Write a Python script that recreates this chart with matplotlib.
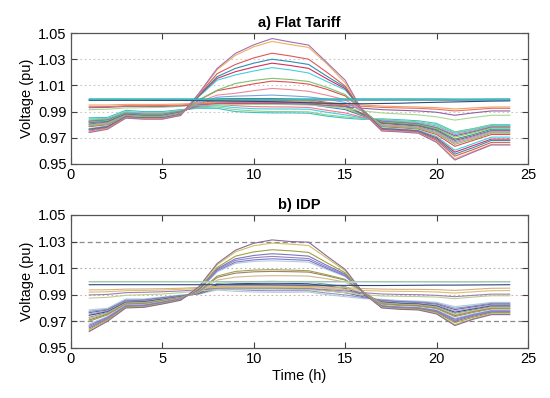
import matplotlib
matplotlib.use("Agg")
import matplotlib.pyplot as plt
import numpy as np

plt.rcParams['font.family'] = ['Liberation Sans', 'DejaVu Sans']

hours = list(range(1, 25))
x_ticks = [0, 5, 10, 15, 20, 25]
y_ticks = [0.95, 0.97, 0.99, 1.01, 1.03, 1.05]
titles = ["a) Flat Tariff", "b) IDP"]
x_label = "Time (h)"
y_label = "Voltage (pu)"

# ---------------- a) Flat tariff ----------------
flat_high_1 = [0.9997, 0.9997, 0.9997, 0.9997, 0.9997, 0.9997, 0.9997, 0.9997, 0.9997, 0.9997, 0.9997, 0.9997, 0.9997, 0.9997, 0.9997, 0.9997, 0.9997, 0.9997, 0.9997, 0.9997, 0.9996, 0.9996, 0.9997, 0.9997]
flat_high_2 = [0.9992, 0.9992, 0.9992, 0.9992, 0.9992, 0.9992, 0.9992, 0.9992, 0.9992, 0.9992, 0.9992, 0.9992, 0.9992, 0.9991, 0.9991, 0.9991, 0.9991, 0.9991, 0.9991, 0.9991, 0.9990, 0.9990, 0.9991, 0.9991]
flat_high_3 = [0.9986, 0.9986, 0.9986, 0.9986, 0.9985, 0.9985, 0.9984, 0.9982, 0.9980, 0.9978, 0.9976, 0.9972, 0.9968, 0.9964, 0.9961, 0.9960, 0.9962, 0.9964, 0.9968, 0.9971, 0.9974, 0.9977, 0.9980, 0.9982]
flat_high_4 = [0.9988, 0.9988, 0.9988, 0.9988, 0.9988, 0.9988, 0.9988, 0.9988, 0.9987, 0.9987, 0.9987, 0.9987, 0.9987, 0.9987, 0.9987, 0.9986, 0.9986, 0.9986, 0.9986, 0.9986, 0.9985, 0.9986, 0.9986, 0.9986]

flat_mid_1 = [0.9950, 0.9950, 0.9955, 0.9955, 0.9955, 0.9958, 0.9965, 0.9975, 0.9978, 0.9978, 0.9978, 0.9976, 0.9975, 0.9968, 0.9960, 0.9950, 0.9942, 0.9938, 0.9935, 0.9930, 0.9920, 0.9928, 0.9935, 0.9935]
flat_mid_2 = [0.9937, 0.9938, 0.9945, 0.9945, 0.9946, 0.9950, 0.9958, 0.9968, 0.9970, 0.9970, 0.9970, 0.9968, 0.9966, 0.9958, 0.9950, 0.9940, 0.9932, 0.9928, 0.9925, 0.9918, 0.9905, 0.9915, 0.9925, 0.9925]
flat_mid_3 = [0.9930, 0.9932, 0.9940, 0.9940, 0.9940, 0.9945, 0.9952, 0.9962, 0.9962, 0.9962, 0.9962, 0.9960, 0.9958, 0.9948, 0.9938, 0.9925, 0.9915, 0.9910, 0.9905, 0.9895, 0.9872, 0.9890, 0.9905, 0.9905]
flat_mid_4 = [0.9915, 0.9918, 0.9928, 0.9930, 0.9932, 0.9940, 0.9948, 0.9955, 0.9955, 0.9955, 0.9955, 0.9953, 0.9950, 0.9940, 0.9925, 0.9905, 0.9890, 0.9882, 0.9875, 0.9860, 0.9835, 0.9855, 0.9872, 0.9872]

flat_peak_1 = [0.9740, 0.9765, 0.9850, 0.9842, 0.9842, 0.9870, 1.0040, 1.0230, 1.0345, 1.0410, 1.0458, 1.0432, 1.0408, 1.0275, 1.0140, 0.9890, 0.9752, 0.9745, 0.9735, 0.9665, 0.9530, 0.9590, 0.9645, 0.9645]
flat_peak_2 = [0.9745, 0.9770, 0.9852, 0.9845, 0.9845, 0.9872, 1.0035, 1.0220, 1.0330, 1.0395, 1.0436, 1.0412, 1.0390, 1.0265, 1.0120, 0.9892, 0.9755, 0.9748, 0.9738, 0.9670, 0.9540, 0.9595, 0.9650, 0.9650]
flat_peak_3 = [0.9750, 0.9775, 0.9855, 0.9848, 0.9848, 0.9874, 1.0030, 1.0190, 1.0260, 1.0310, 1.0346, 1.0325, 1.0300, 1.0200, 1.0095, 0.9895, 0.9760, 0.9752, 0.9742, 0.9680, 0.9560, 0.9610, 0.9665, 0.9665]
flat_peak_4 = [0.9760, 0.9780, 0.9858, 0.9850, 0.9850, 0.9876, 1.0025, 1.0167, 1.0230, 1.0270, 1.0300, 1.0282, 1.0260, 1.0170, 1.0085, 0.9898, 0.9765, 0.9757, 0.9748, 0.9690, 0.9575, 0.9625, 0.9680, 0.9680]
flat_peak_5 = [0.9765, 0.9785, 0.9860, 0.9852, 0.9852, 0.9878, 1.0020, 1.0154, 1.0205, 1.0240, 1.0270, 1.0252, 1.0230, 1.0150, 1.0075, 0.9900, 0.9770, 0.9762, 0.9752, 0.9700, 0.9590, 0.9640, 0.9690, 0.9690]
flat_peak_6 = [0.9770, 0.9790, 0.9862, 0.9855, 0.9855, 0.9880, 1.0015, 1.0140, 1.0180, 1.0210, 1.0236, 1.0218, 1.0195, 1.0130, 1.0065, 0.9902, 0.9775, 0.9767, 0.9757, 0.9710, 0.9605, 0.9655, 0.9705, 0.9705]
flat_peak_7 = [0.9790, 0.9805, 0.9868, 0.9860, 0.9860, 0.9885, 0.9990, 1.0064, 1.0115, 1.0138, 1.0154, 1.0145, 1.0130, 1.0085, 1.0030, 0.9910, 0.9790, 0.9782, 0.9772, 0.9735, 0.9650, 0.9690, 0.9735, 0.9735]
flat_peak_8 = [0.9785, 0.9800, 0.9866, 0.9858, 0.9858, 0.9883, 0.9988, 1.0060, 1.0085, 1.0112, 1.0133, 1.0125, 1.0110, 1.0070, 1.0020, 0.9908, 0.9785, 0.9777, 0.9767, 0.9725, 0.9635, 0.9680, 0.9725, 0.9725]
flat_peak_9 = [0.9795, 0.9810, 0.9870, 0.9862, 0.9862, 0.9887, 0.9975, 1.0026, 1.0040, 1.0060, 1.0077, 1.0068, 1.0055, 1.0025, 0.9990, 0.9905, 0.9795, 0.9787, 0.9777, 0.9740, 0.9660, 0.9700, 0.9742, 0.9742]
flat_peak_10 = [0.9800, 0.9815, 0.9873, 0.9865, 0.9865, 0.9890, 0.9965, 1.0010, 1.0018, 1.0022, 1.0026, 1.0020, 1.0012, 0.9995, 0.9970, 0.9900, 0.9800, 0.9792, 0.9782, 0.9748, 0.9670, 0.9708, 0.9750, 0.9750]

flat_low_1 = [0.9805, 0.9820, 0.9876, 0.9868, 0.9868, 0.9893, 0.9960, 0.9995, 1.0000, 1.0000, 1.0000, 0.9995, 0.9990, 0.9970, 0.9950, 0.9880, 0.9810, 0.9800, 0.9790, 0.9755, 0.9680, 0.9715, 0.9755, 0.9755]
flat_low_2 = [0.9815, 0.9825, 0.9880, 0.9872, 0.9872, 0.9896, 0.9955, 0.9985, 0.9987, 0.9987, 0.9987, 0.9983, 0.9980, 0.9960, 0.9940, 0.9875, 0.9815, 0.9805, 0.9795, 0.9762, 0.9690, 0.9725, 0.9765, 0.9765]
flat_low_3 = [0.9820, 0.9830, 0.9883, 0.9875, 0.9875, 0.9898, 0.9950, 0.9975, 0.9972, 0.9970, 0.9970, 0.9968, 0.9965, 0.9945, 0.9925, 0.9870, 0.9820, 0.9810, 0.9800, 0.9770, 0.9705, 0.9738, 0.9775, 0.9775]
flat_low_4 = [0.9825, 0.9835, 0.9886, 0.9878, 0.9878, 0.9900, 0.9945, 0.9965, 0.9962, 0.9960, 0.9960, 0.9958, 0.9955, 0.9935, 0.9915, 0.9865, 0.9825, 0.9815, 0.9805, 0.9775, 0.9715, 0.9745, 0.9780, 0.9780]
flat_low_5 = [0.9830, 0.9838, 0.9890, 0.9882, 0.9882, 0.9903, 0.9940, 0.9955, 0.9945, 0.9938, 0.9936, 0.9935, 0.9932, 0.9910, 0.9890, 0.9855, 0.9830, 0.9820, 0.9810, 0.9780, 0.9725, 0.9752, 0.9785, 0.9785]
flat_low_6 = [0.9836, 0.9842, 0.9895, 0.9887, 0.9887, 0.9906, 0.9935, 0.9945, 0.9930, 0.9922, 0.9920, 0.9920, 0.9918, 0.9895, 0.9875, 0.9850, 0.9835, 0.9825, 0.9815, 0.9790, 0.9735, 0.9760, 0.9792, 0.9792]
flat_low_7 = [0.9845, 0.9848, 0.9900, 0.9892, 0.9892, 0.9910, 0.9930, 0.9935, 0.9915, 0.9905, 0.9900, 0.9900, 0.9898, 0.9875, 0.9860, 0.9845, 0.9840, 0.9830, 0.9822, 0.9800, 0.9742, 0.9768, 0.9798, 0.9798]
flat_low_8 = [0.9853, 0.9855, 0.9910, 0.9900, 0.9900, 0.9915, 0.9925, 0.9925, 0.9900, 0.9893, 0.9890, 0.9890, 0.9888, 0.9865, 0.9850, 0.9840, 0.9845, 0.9838, 0.9830, 0.9810, 0.9745, 0.9770, 0.9800, 0.9800]

flat_series = [flat_low_8, flat_low_7, flat_low_6, flat_low_5, flat_low_4, flat_low_3, flat_low_2, flat_low_1,
               flat_mid_4, flat_mid_3, flat_mid_2, flat_mid_1,
               flat_peak_10, flat_peak_9, flat_peak_8, flat_peak_7, flat_peak_6, flat_peak_5, flat_peak_4,
               flat_peak_3, flat_peak_2, flat_peak_1,
               flat_high_4, flat_high_3, flat_high_2, flat_high_1]
flat_colors = ['#3cc0c8', '#8cd08c', '#40d0e0', '#f07890', '#4a78c8', '#a0c050', '#20a0a0', '#b05050',
               '#a8d890', '#9060a8', '#e87060', '#f0a060',
               '#70a8e0', '#f08898', '#e05050', '#80c070', '#40d0e0', '#d03060', '#2f8fb0',
               '#e05858', '#f0b060', '#a070b0',
               '#8090a0', '#2a4a80', '#50c8d0', '#20a8a8']

# ---------------- b) IDP ----------------
idp_high_1 = [0.9999, 0.9999, 0.9999, 0.9999, 0.9999, 0.9999, 0.9999, 0.9999, 0.9999, 0.9999, 0.9999, 0.9999, 0.9999, 0.9999, 0.9999, 0.9999, 0.9999, 0.9999, 0.9999, 0.9999, 0.9998, 0.9998, 0.9999, 0.9999]
idp_high_2 = [0.9975, 0.9975, 0.9975, 0.9975, 0.9975, 0.9975, 0.9975, 0.9975, 0.9975, 0.9975, 0.9974, 0.9973, 0.9972, 0.9971, 0.9970, 0.9969, 0.9969, 0.9970, 0.9971, 0.9972, 0.9972, 0.9973, 0.9974, 0.9975]
idp_high_3 = [0.9994, 0.9994, 0.9994, 0.9994, 0.9994, 0.9994, 0.9994, 0.9994, 0.9994, 0.9994, 0.9994, 0.9994, 0.9994, 0.9994, 0.9994, 0.9994, 0.9993, 0.9993, 0.9993, 0.9993, 0.9992, 0.9993, 0.9993, 0.9993]

idp_mid_1 = [0.9936, 0.9937, 0.9942, 0.9943, 0.9945, 0.9948, 0.9955, 0.9962, 0.9965, 0.9965, 0.9965, 0.9964, 0.9962, 0.9958, 0.9952, 0.9946, 0.9942, 0.9940, 0.9940, 0.9938, 0.9932, 0.9940, 0.9948, 0.9949]
idp_mid_2 = [0.9919, 0.9922, 0.9930, 0.9932, 0.9935, 0.9940, 0.9948, 0.9955, 0.9957, 0.9957, 0.9957, 0.9956, 0.9954, 0.9948, 0.9940, 0.9932, 0.9927, 0.9925, 0.9924, 0.9920, 0.9912, 0.9922, 0.9930, 0.9931]
idp_mid_3 = [0.9898, 0.9902, 0.9915, 0.9918, 0.9922, 0.9928, 0.9938, 0.9948, 0.9950, 0.9950, 0.9950, 0.9948, 0.9946, 0.9938, 0.9928, 0.9915, 0.9905, 0.9902, 0.9900, 0.9895, 0.9885, 0.9895, 0.9904, 0.9904]
idp_mid_4 = [0.9874, 0.9880, 0.9895, 0.9900, 0.9905, 0.9915, 0.9928, 0.9940, 0.9942, 0.9942, 0.9942, 0.9940, 0.9938, 0.9928, 0.9915, 0.9900, 0.9890, 0.9888, 0.9886, 0.9882, 0.9870, 0.9882, 0.9892, 0.9892]

idp_peak_1 = [0.9623, 0.9700, 0.9800, 0.9805, 0.9830, 0.9858, 0.9960, 1.0135, 1.0235, 1.0287, 1.0312, 1.0300, 1.0295, 1.0190, 1.0090, 0.9910, 0.9800, 0.9790, 0.9785, 0.9755, 0.9668, 0.9715, 0.9750, 0.9750]
idp_peak_2 = [0.9630, 0.9705, 0.9803, 0.9808, 0.9832, 0.9860, 0.9955, 1.0125, 1.0222, 1.0268, 1.0288, 1.0280, 1.0270, 1.0175, 1.0080, 0.9912, 0.9803, 0.9793, 0.9788, 0.9760, 0.9675, 0.9720, 0.9755, 0.9755]
idp_peak_3 = [0.9640, 0.9712, 0.9806, 0.9811, 0.9835, 0.9862, 0.9948, 1.0105, 1.0190, 1.0222, 1.0238, 1.0230, 1.0218, 1.0140, 1.0065, 0.9914, 0.9806, 0.9796, 0.9791, 0.9765, 0.9690, 0.9730, 0.9762, 0.9762]
idp_peak_4 = [0.9650, 0.9718, 0.9810, 0.9815, 0.9838, 0.9865, 0.9942, 1.0095, 1.0170, 1.0195, 1.0208, 1.0200, 1.0190, 1.0120, 1.0055, 0.9916, 0.9810, 0.9800, 0.9795, 0.9770, 0.9700, 0.9738, 0.9768, 0.9768]
idp_peak_5 = [0.9660, 0.9724, 0.9813, 0.9818, 0.9841, 0.9867, 0.9938, 1.0088, 1.0158, 1.0178, 1.0188, 1.0180, 1.0172, 1.0108, 1.0048, 0.9917, 0.9813, 0.9803, 0.9798, 0.9775, 0.9708, 0.9745, 0.9773, 0.9773]
idp_peak_6 = [0.9670, 0.9730, 0.9816, 0.9821, 0.9844, 0.9869, 0.9935, 1.0080, 1.0145, 1.0162, 1.0170, 1.0164, 1.0158, 1.0098, 1.0042, 0.9918, 0.9816, 0.9806, 0.9801, 0.9780, 0.9715, 0.9750, 0.9778, 0.9778]
idp_peak_7 = [0.9680, 0.9736, 0.9820, 0.9824, 0.9847, 0.9871, 0.9932, 1.0072, 1.0135, 1.0150, 1.0155, 1.0150, 1.0145, 1.0090, 1.0036, 0.9919, 0.9820, 0.9810, 0.9805, 0.9785, 0.9722, 0.9756, 0.9783, 0.9783]
idp_peak_8 = [0.9700, 0.9748, 0.9826, 0.9830, 0.9852, 0.9875, 0.9925, 1.0040, 1.0075, 1.0085, 1.0088, 1.0085, 1.0080, 1.0050, 1.0015, 0.9920, 0.9828, 0.9818, 0.9813, 0.9795, 0.9735, 0.9766, 0.9792, 0.9792]
idp_peak_9 = [0.9710, 0.9754, 0.9830, 0.9834, 0.9855, 0.9877, 0.9922, 1.0030, 1.0062, 1.0072, 1.0075, 1.0073, 1.0070, 1.0042, 1.0010, 0.9920, 0.9832, 0.9822, 0.9817, 0.9800, 0.9742, 0.9772, 0.9797, 0.9797]
idp_peak_10 = [0.9720, 0.9760, 0.9834, 0.9838, 0.9858, 0.9879, 0.9918, 1.0010, 1.0032, 1.0040, 1.0043, 1.0042, 1.0040, 1.0020, 0.9995, 0.9918, 0.9836, 0.9826, 0.9821, 0.9805, 0.9750, 0.9778, 0.9803, 0.9803]

idp_low_1 = [0.9730, 0.9766, 0.9838, 0.9842, 0.9862, 0.9882, 0.9915, 0.9985, 0.9995, 0.9998, 1.0000, 0.9998, 0.9995, 0.9978, 0.9960, 0.9905, 0.9840, 0.9830, 0.9825, 0.9810, 0.9760, 0.9785, 0.9810, 0.9810]
idp_low_2 = [0.9745, 0.9772, 0.9843, 0.9847, 0.9866, 0.9885, 0.9912, 0.9975, 0.9982, 0.9985, 0.9986, 0.9985, 0.9982, 0.9965, 0.9948, 0.9898, 0.9845, 0.9835, 0.9830, 0.9815, 0.9768, 0.9792, 0.9815, 0.9815]
idp_low_3 = [0.9755, 0.9778, 0.9848, 0.9852, 0.9870, 0.9888, 0.9910, 0.9965, 0.9968, 0.9970, 0.9972, 0.9970, 0.9968, 0.9950, 0.9935, 0.9892, 0.9850, 0.9840, 0.9835, 0.9822, 0.9778, 0.9800, 0.9822, 0.9822]
idp_low_4 = [0.9765, 0.9784, 0.9853, 0.9857, 0.9874, 0.9891, 0.9908, 0.9955, 0.9952, 0.9950, 0.9950, 0.9950, 0.9948, 0.9930, 0.9915, 0.9885, 0.9855, 0.9845, 0.9840, 0.9828, 0.9788, 0.9808, 0.9828, 0.9828]
idp_low_5 = [0.9775, 0.9790, 0.9860, 0.9862, 0.9878, 0.9894, 0.9906, 0.9945, 0.9938, 0.9932, 0.9930, 0.9930, 0.9930, 0.9912, 0.9898, 0.9878, 0.9860, 0.9850, 0.9846, 0.9835, 0.9798, 0.9815, 0.9835, 0.9835]
idp_low_6 = [0.9786, 0.9798, 0.9868, 0.9868, 0.9882, 0.9897, 0.9905, 0.9935, 0.9925, 0.9920, 0.9918, 0.9918, 0.9920, 0.9900, 0.9885, 0.9870, 0.9865, 0.9856, 0.9852, 0.9842, 0.9810, 0.9825, 0.9842, 0.9842]

idp_series = [idp_low_6, idp_low_5, idp_low_4, idp_low_3, idp_low_2, idp_low_1,
              idp_mid_4, idp_mid_3, idp_mid_2, idp_mid_1,
              idp_peak_10, idp_peak_9, idp_peak_8, idp_peak_7, idp_peak_6, idp_peak_5, idp_peak_4,
              idp_peak_3, idp_peak_2, idp_peak_1,
              idp_high_3, idp_high_2, idp_high_1]
idp_colors = ['#a8d0dc', '#9890c8', '#6a6aa0', '#b0a8d8', '#3c4a78', '#7aa0a0',
              '#b8d090', '#9a80b8', '#d8c070', '#d8b080',
              '#d0b890', '#a08060', '#a0a050', '#b8c8e8', '#7080c8', '#9a80c0', '#7878c0',
              '#a0a040', '#d0c060', '#8a6a9a',
              '#c0e0e8', '#2f4878', '#a8c8b0']

limit_lines = [0.97, 1.03]
ref_lines = [0.99, 1.01]

fig = plt.figure(figsize=(5.5, 3.98), dpi=100)
ax1 = fig.add_axes([0.129, 0.588, 0.831, 0.329])
ax2 = fig.add_axes([0.129, 0.126, 0.831, 0.334])

for ax in (ax1, ax2):
    ax.set_xlim(0, 25)
    ax.set_ylim(0.95, 1.05)
    ax.set_xticks(x_ticks)
    ax.set_yticks(y_ticks)
    ax.set_yticklabels([f"{v:.2f}" for v in y_ticks])
    ax.tick_params(direction='in', top=True, right=True, labelsize=10.5,
                   length=4, width=0.8, color='#404040', pad=3)
    for s in ax.spines.values():
        s.set_color('#555555')
        s.set_linewidth(0.9)
    ax.set_ylabel(y_label, fontsize=10.5, labelpad=3)

# top panel grid
for v in y_ticks[1:-1]:
    ax1.axhline(v, color='#c8c8c8', linestyle=(0, (1.5, 2.5)), linewidth=0.8, zorder=0)
for s, c in zip(flat_series, flat_colors):
    ax1.plot(hours, s, color=c, linewidth=0.8)
ax1.set_title(titles[0], fontsize=10.5, fontweight='bold', pad=4)

# bottom panel grid
for v in limit_lines:
    ax2.axhline(v, color='#8a8a8a', linestyle=(0, (4, 2.5)), linewidth=0.9, zorder=0)
ax2.axhline(ref_lines[1], color='#b0b0b0', linestyle=(0, (1.5, 2.5)), linewidth=0.8, zorder=0)
ax2.axhline(ref_lines[0], color='#e0a8a8', linestyle=(0, (1.5, 2.5)), linewidth=0.8, zorder=0)
for s, c in zip(idp_series, idp_colors):
    ax2.plot(hours, s, color=c, linewidth=0.8)
ax2.set_title(titles[1], fontsize=10.5, fontweight='bold', pad=4)
ax2.set_xlabel(x_label, fontsize=10.5, labelpad=2)

fig.savefig("out.png", dpi=100)
